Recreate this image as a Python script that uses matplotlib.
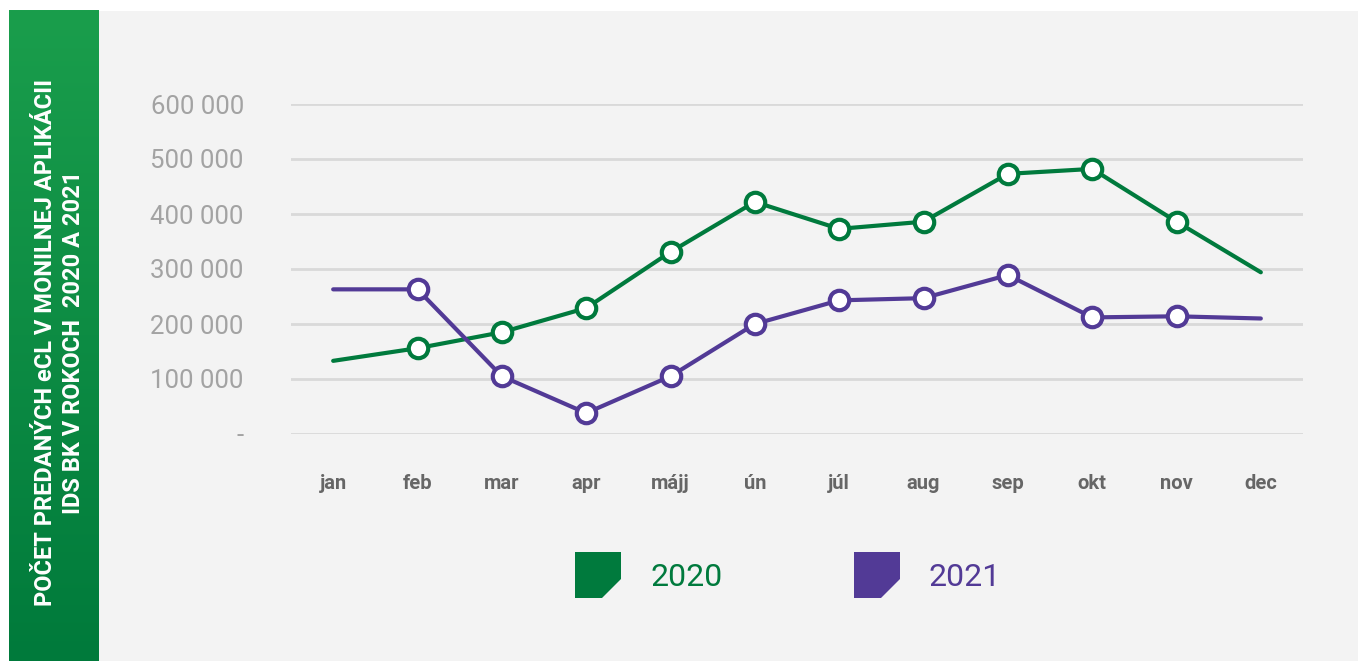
import matplotlib
matplotlib.use("Agg")
import matplotlib.pyplot as plt
import numpy as np
from matplotlib.patches import Polygon, Rectangle
from matplotlib.ticker import FuncFormatter
from matplotlib.colors import LinearSegmentedColormap

months = ["jan", "feb", "mar", "apr", "májj", "ún", "júl", "aug", "sep", "okt", "nov", "dec"]
values_2020 = [133000, 156000, 185000, 229000, 331000, 422000, 373000, 386000, 473000, 482000, 386000, 294000]
values_2021 = [263000, 263000, 105000, 38000, 105000, 200000, 243000, 247000, 289000, 212000, 214000, 210000]
yticks = [0, 100000, 200000, 300000, 400000, 500000, 600000]
series_labels = ["2020", "2021"]
title_text = "POČET PREDANÝCH eCL V MONILNEJ APLIKÁCII\nIDS BK V ROKOCH  2020 A 2021"

GREEN = "#007A3D"
PURPLE = "#523A96"

W, H = 1358, 661
fig = plt.figure(figsize=(W / 100, H / 100), dpi=100)
fig.patch.set_facecolor("white")

# gray panel
fig.patches.append(Rectangle((98 / W, 0), (W - 98) / W, (H - 11) / H, transform=fig.transFigure,
                             facecolor="#f3f3f3", edgecolor="none", zorder=-5))

# green gradient side bar
bar_ax = fig.add_axes([9 / W, 0, 89 / W, (H - 10) / H])
grad = np.linspace(0, 1, 256).reshape(-1, 1)
cmap = LinearSegmentedColormap.from_list("g", ["#1a9e4c", "#007a3b"])
bar_ax.imshow(grad, aspect="auto", cmap=cmap, extent=[0, 1, 0, 1], origin="upper")
bar_ax.set_axis_off()
bar_ax.text(0.57, 0.49, title_text, rotation=90, ha="center", va="center", color="white",
            fontsize=17, fontweight="bold", family=["Roboto", "DejaVu Sans"],
            linespacing=1.3, multialignment="center", transform=bar_ax.transAxes)

# main axes
ax = fig.add_axes([291 / W, 1 - 434 / H, (1303 - 291) / W, 330 / H])
ax.set_facecolor("none")
x = np.arange(len(months))
for vals, col, z in [(values_2020, GREEN, 3), (values_2021, PURPLE, 4)]:
    ax.plot(x, vals, color=col, lw=3, zorder=z, solid_capstyle="round", clip_on=False)
    ax.plot(x[1:-1], vals[1:-1], ls="none", marker="o", ms=14, mfc="white", mec=col, mew=3,
            zorder=z + 0.5, clip_on=False)

ax.set_xlim(-0.5, len(months) - 0.5)
ax.set_ylim(0, 600000)
ax.set_yticks(yticks)
ax.yaxis.set_major_formatter(FuncFormatter(lambda v, p: "-" if v == 0 else f"{int(v):,}".replace(",", " ")))
ax.set_xticks(x)
ax.set_xticklabels(months)
ax.grid(axis="y", color="#d9d9d9", lw=2)
ax.set_axisbelow(True)
for s in ax.spines.values():
    s.set_visible(False)
ax.tick_params(axis="both", length=0)
ax.tick_params(axis="y", pad=34, labelcolor="#a3a3a3", labelsize=18.5)
ax.tick_params(axis="x", pad=29, labelcolor="#666666", labelsize=14.5)
for lbl in ax.get_yticklabels():
    lbl.set_family(["Roboto", "DejaVu Sans"])
    lbl.set_fontweight("normal")
for lbl in ax.get_xticklabels():
    lbl.set_family(["Roboto", "DejaVu Sans"])
    lbl.set_fontweight("bold")

# legend
def legend_item(x0, col, label):
    y0, y1 = 552, 598
    x1 = x0 + 46
    cut = 19
    pts = [(x0, y0), (x1, y0), (x1, y1 - cut), (x1 - cut, y1), (x0, y1)]
    pts = [(px / W, 1 - py / H) for px, py in pts]
    fig.patches.append(Polygon(pts, closed=True, transform=fig.transFigure, facecolor=col,
                               edgecolor="none", zorder=2))
    fig.text((x1 + 29) / W, 1 - 578 / H, label, color=col, fontsize=23, va="center", ha="left",
             family=["Roboto", "DejaVu Sans"])

legend_item(575, GREEN, series_labels[0])
legend_item(854, PURPLE, series_labels[1])

fig.savefig("out.png", dpi=100, facecolor=fig.get_facecolor())
